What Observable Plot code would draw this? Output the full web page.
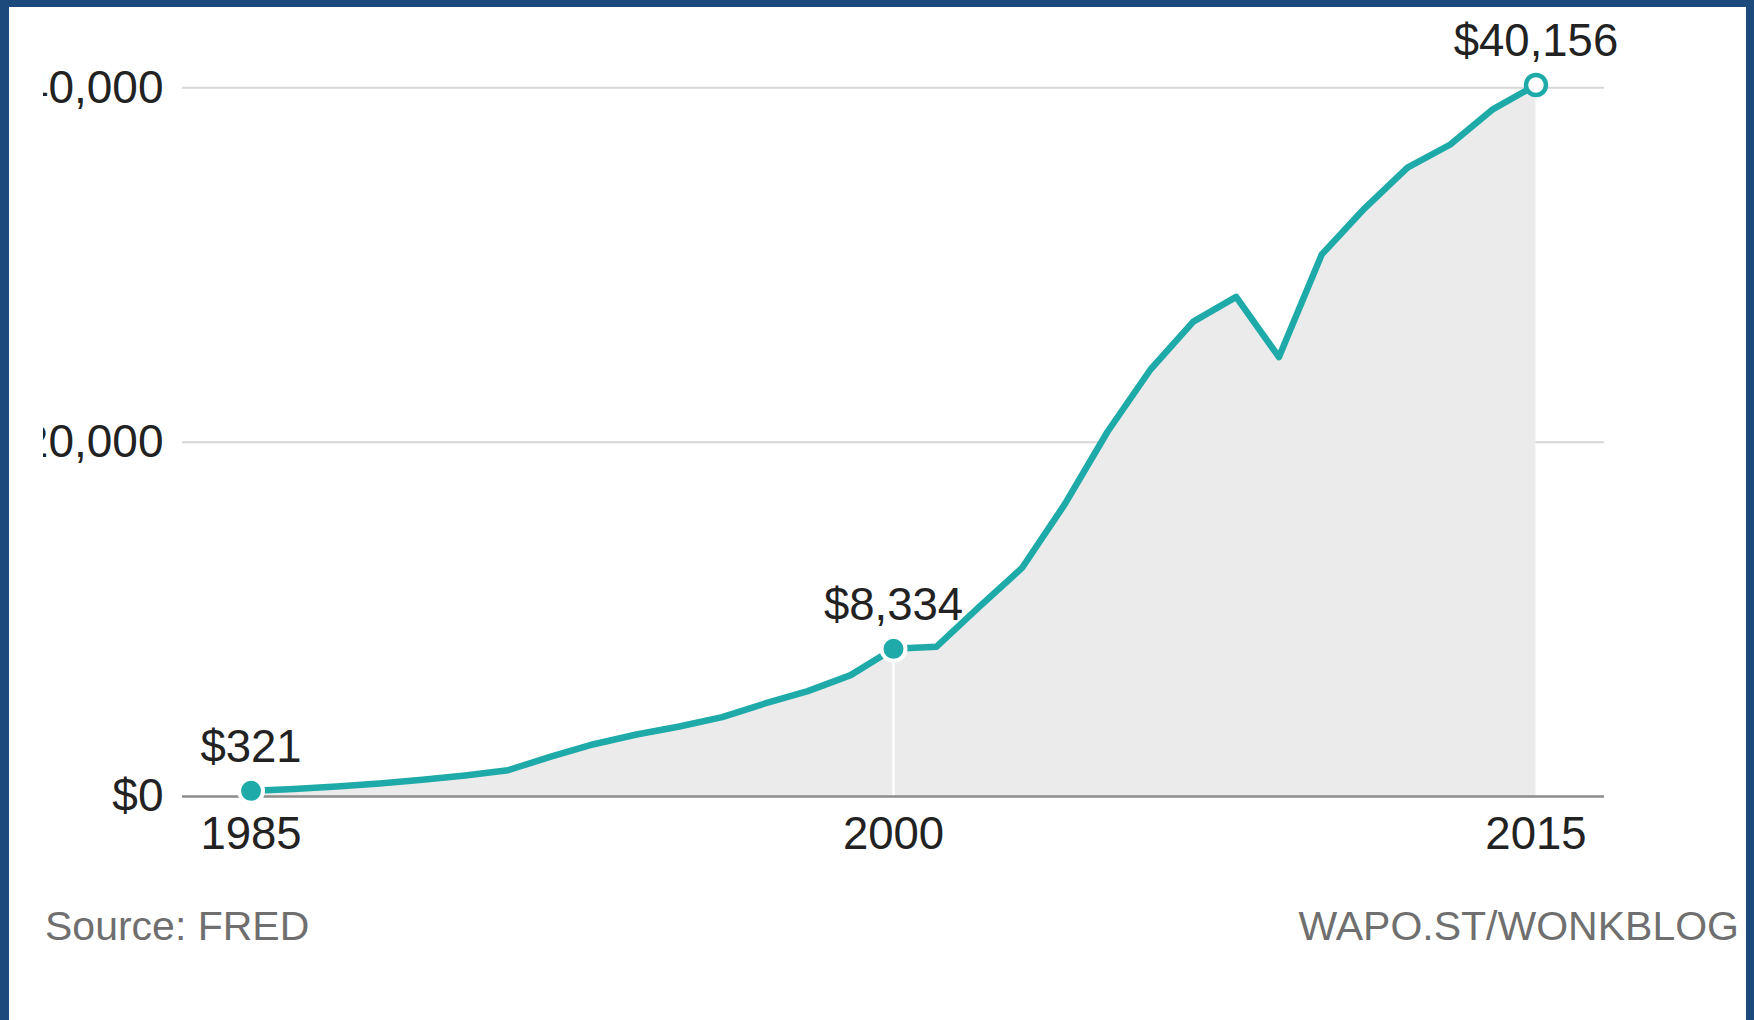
<!DOCTYPE html>
<html>
<head>
<meta charset="utf-8">
<script src="https://cdn.jsdelivr.net/npm/d3@7"></script>
<script src="https://cdn.jsdelivr.net/npm/@observablehq/plot@0.6"></script>
<style>
html, body { margin: 0; padding: 0; background: #1d4a7c; width: 1754px; height: 1020px; overflow: hidden; }
#panel { position: absolute; left: 9px; top: 7px; width: 1737px; height: 1013px; background: #fff; }
#chart { position: absolute; left: 34px; top: 0; width: 1703px; overflow: hidden; }
#footer { position: absolute; left: 36px; top: 899px; width: 1694px; display: flex; justify-content: space-between;
  font-family: "Liberation Sans", Arial, sans-serif; font-size: 41px; line-height: 40px; color: #6f6f6f; white-space: nowrap; }
</style>
</head>
<body>
<div id="panel">
  <div id="chart"></div>
  <div id="footer"><span id="source"></span><span id="credit"></span></div>
</div>
<script>
const years = [1985, 1986, 1987, 1988, 1989, 1990, 1991, 1992, 1993, 1994,
               1995, 1996, 1997, 1998, 1999, 2000, 2001, 2002, 2003, 2004,
               2005, 2006, 2007, 2008, 2009, 2010, 2011, 2012, 2013, 2014, 2015];
const values = [321, 420, 560, 740, 940, 1190, 1480, 2250, 2950, 3500,
                3950, 4480, 5250, 5950, 6850, 8334, 8450, 10700, 12900, 16500,
                20600, 24100, 26800, 28200, 24800, 30600, 33200, 35500, 36800, 38800, 40156];
const labeledYears = [1985, 2000, 2015];
const xTicks = [1985, 2000, 2015];
const yTicks = [0, 20000, 40000];
const sourceText = "Source: FRED";
const creditText = "WAPO.ST/WONKBLOG";

const data = years.map((year, i) => ({year, value: values[i]}));
const highlights = data.filter(d => labeledYears.includes(d.year));
const lastYear = years[years.length - 1];
const markerYear = labeledYears[1];
const fmt = d3.format(",");
const teal = "#1eaaa8";

const plot = Plot.plot({
  width: 1703,
  height: 899,
  marginLeft: 139,
  marginRight: 142,
  marginTop: 80.3,
  marginBottom: 110,
  x: {domain: [1983.4, 2016.6], label: null},
  y: {domain: [0, 40000], label: null},
  style: {
    fontFamily: "'Liberation Sans', Arial, sans-serif",
    fontSize: "45.5px",
    color: "#222",
    background: "transparent",
    overflow: "hidden"
  },
  marks: [
    Plot.ruleY(yTicks.filter(d => d > 0), {stroke: "#d6d6d6", strokeWidth: 2}),
    Plot.areaY(data, {x: "year", y: "value", fill: "#ebebeb"}),
    Plot.ruleX(highlights.filter(d => d.year === markerYear), {x: "year", y1: 0, y2: "value", stroke: "white", strokeWidth: 2.5}),
    Plot.ruleY([0], {stroke: "#8c8c8c", strokeWidth: 2.5}),
    Plot.line(data, {x: "year", y: "value", stroke: teal, strokeWidth: 6.5, strokeLinejoin: "round", strokeLinecap: "round"}),
    Plot.dot(highlights.filter(d => d.year !== lastYear), {x: "year", y: "value", r: 12, fill: teal, stroke: "white", strokeWidth: 4}),
    Plot.dot(highlights.filter(d => d.year === lastYear), {x: "year", y: "value", r: 10, fill: "white", stroke: teal, strokeWidth: 4.5}),
    Plot.text(highlights, {x: "year", y: "value", text: d => "$" + fmt(d.value), dy: -29, lineAnchor: "bottom", fill: "#222"}),
    Plot.axisY({ticks: yTicks, tickFormat: d => "$" + fmt(d), tickSize: 0, tickPadding: 19, label: null, fontSize: 46}),
    Plot.axisX({ticks: xTicks, tickFormat: d => String(d), tickSize: 0, tickPadding: 20, label: null})
  ]
});
document.getElementById("chart").appendChild(plot);
document.getElementById("source").textContent = sourceText;
document.getElementById("credit").textContent = creditText;
</script>
</body>
</html>
